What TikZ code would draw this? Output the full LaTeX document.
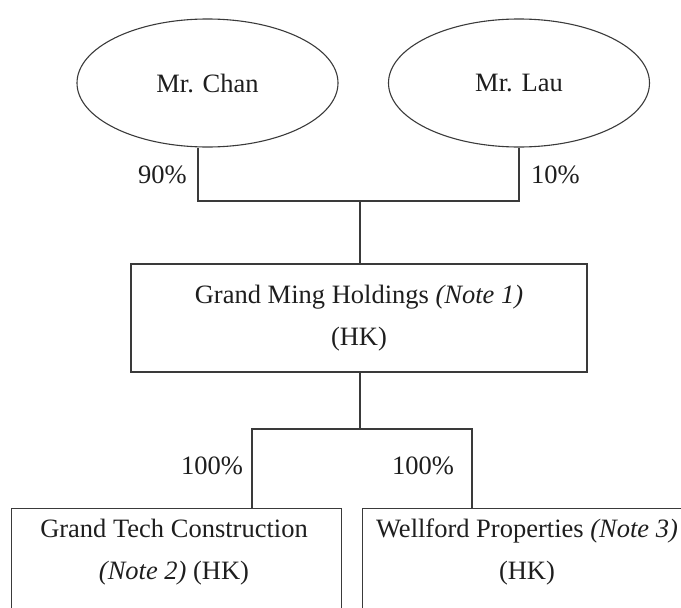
\documentclass[tikz,border=0pt]{standalone}
\usepackage{fontspec}
\setmainfont{Liberation Serif}
\usetikzlibrary{shapes.geometric}
\definecolor{linec}{HTML}{3A3A3A}
\definecolor{textc}{HTML}{1E1E1E}
\begin{document}
\begin{tikzpicture}[x=1pt,y=-1pt,
  basefont/.style={font=\fontsize{26.5}{42}\selectfont, text=textc},
  person/.style={ellipse, draw=linec, line width=1.1pt, minimum width=261pt, minimum height=128pt, inner sep=0pt, basefont},
  company/.style={rectangle, draw=linec, line width=1.1pt, inner sep=0pt, align=center, basefont},
  boxtext/.style={inner sep=0pt, align=center, basefont},
  pct/.style={anchor=base, inner sep=0pt, basefont},
  link/.style={draw=linec, line width=1.1pt}]
\useasboundingbox (0,0) rectangle (681,608);
\clip (0,0) rectangle (681,608);

% owners
\node[person] (chan) at (207.5,83) {Mr. Chan};
\node[person] (lau) at (519,83) {Mr. Lau};

% holding company
\node[company, minimum width=456pt, minimum height=108pt] (ming) at (359,318)
  {Grand Ming Holdings \textit{(Note 1)}\\(HK)};

% subsidiaries (cut off at the bottom)
\node[company, minimum width=330pt, minimum height=140pt, anchor=north west] (tech) at (11,508) {};
\node[boxtext] (techtext) at (174,551.7) {Grand Tech Construction\\\textit{(Note 2)} (HK)};
\node[company, minimum width=330pt, minimum height=140pt, anchor=north west] (well) at (362,508) {};
\node[boxtext] (welltext) at (527,551.7) {Wellford Properties \textit{(Note 3)}\\(HK)};

% junction points
\coordinate (jl) at (198,201);
\coordinate (jr) at (519,201);
\coordinate (jm) at (360,201);
\coordinate (jm2) at (360,429);
\coordinate (jbl) at (252,429);
\coordinate (jbr) at (472,429);

% connectors
\draw[link] (chan.south -| jl) -- (jl) -- (jr) -- (lau.south -| jr);
\draw[link] (jm) -- (ming.north -| jm);
\draw[link] (ming.south -| jm2) -- (jm2);
\draw[link] (tech.north -| jbl) -- (jbl) -- (jbr) -- (well.north -| jbr);

% percentages
\node[pct] (p90) at (162.5,183) {90\%};
\node[pct] (p10) at (555.5,183) {10\%};
\node[pct] (p100a) at (212,474) {100\%};
\node[pct] (p100b) at (423,474) {100\%};
\end{tikzpicture}
\end{document}
